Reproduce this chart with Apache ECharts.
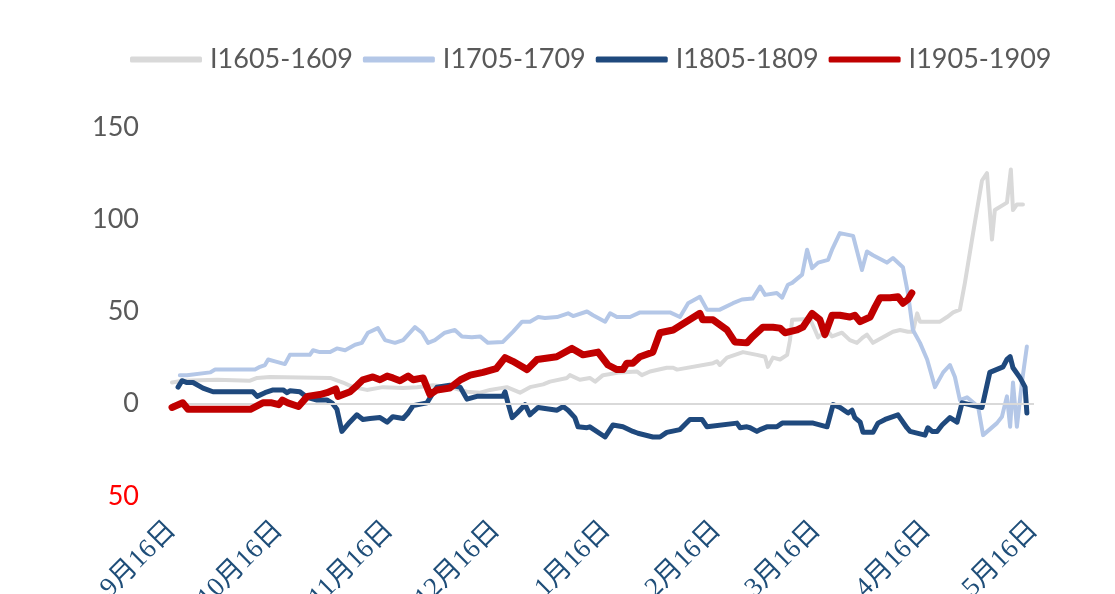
<!DOCTYPE html>
<html>
<head>
<meta charset="utf-8">
<script src="https://cdn.jsdelivr.net/npm/echarts@6/dist/echarts.min.js"></script>
<style>
html,body{margin:0;padding:0;background:#fff;}
#chart{width:1115px;height:594px;}
</style>
</head>
<body>
<div id="chart"></div>
<script>
// x = days after 9月16日
const seriesNames = ['I1605-1609','I1705-1709','I1805-1809','I1905-1909'];
const xLabels = ['9月16日','10月16日','11月16日','12月16日','1月16日','2月16日','3月16日','4月16日','5月16日'];
const xLabelDays = [0,30,61,91,122,153,181,212,242];
const yTicks = [-50,0,50,100,150];

const i1605 = [
[0,11.5],[3.1,12.5],[12.6,13],[21.9,12.5],[23.9,14],[27.5,14.5],[44.4,14],[48,11.5],[50.8,9],[54.7,7.5],[59.2,9],[64.9,8.5],[68.8,9],[73.3,10],[78,9],[82.8,6.5],[86.5,6],[89.3,7.5],[94,9],[97.7,6],[100.5,9],[104.2,10.5],[106.1,12],[110.9,14],[111.7,15.5],[114.5,13],[117.3,14],[118.8,12],[121,15.5],[125.8,17],[130.5,17.5],[131.9,15.5],[134.2,17.5],[138.9,19.5],[140.7,19.5],[141.8,18.5],[151.9,22],[153,23],[153.8,21],[155.8,25],[160.3,28],[164.2,26.5],[166.5,25.5],[167.3,20],[168.7,25],[170.7,24],[172.7,26.5],[173.5,34.5],[174.1,45.5],[179.1,46],[180.5,40],[181.4,36],[183.9,40],[185.3,36.5],[188.1,38.5],[190.3,34.5],[192.3,33],[194,36],[195.1,37.5],[196.8,33],[199.6,36],[202.4,39],[204.4,40],[206.6,39],[208,39],[209.2,49],[210,44.5],[215.6,44.5],[217.6,47],[219.3,49.5],[221.2,51],[222.6,65.5],[224.9,92.5],[227.4,121],[228.8,125],[230.2,89],[231,105],[234.4,109],[235.5,127],[236.1,105],[237.2,108],[238.9,108]
];
const i1705 = [
[2.2,15.5],[4.2,15.5],[10.7,17],[12.1,18.5],[23.3,18.5],[24.7,20],[26.1,21],[27,24],[28.9,23],[31.7,21.5],[33.1,26.5],[38.7,26.5],[39.6,29],[41.5,28],[44.4,28],[46.3,30],[48.6,29],[51.4,32],[53.3,33],[55,38.5],[57.8,41],[59.8,34.5],[62.6,33],[64.9,34.5],[66.3,37.5],[68.2,41.5],[70.2,38.5],[71.9,33],[73.8,34.5],[76.6,38.5],[79.4,40],[81.4,36.5],[84.2,36],[86.5,36.5],[88.7,33],[92.9,33.5],[95.7,39],[98.3,44.5],[100.5,44.5],[102.8,47],[104.7,46.5],[108.1,47],[111.2,49],[112.6,47.5],[116.5,50],[118.2,48],[121.6,44.5],[123,49],[124.9,47],[128.6,47],[131.4,49.5],[139.8,49.5],[142.6,47],[144.9,54.5],[148.2,58],[150.2,51],[153.8,51],[157.5,54.5],[160,56.5],[163,57],[165.1,63.5],[166.5,59],[169.8,60],[171.3,57.5],[172.9,64.5],[174.1,65.5],[176.9,70],[178.3,83.5],[179.7,73.5],[181.4,76.5],[184.2,78],[185.3,83.5],[187.5,92.5],[191.2,91],[193.7,72.5],[195.1,82.5],[196.8,80.5],[200.7,76.5],[202.4,79],[205.2,74],[206.6,60],[208,40],[210,33],[212,24],[214.2,9],[216.5,17],[218.4,21],[219.8,14.5],[221.2,2],[223.2,3.5],[226.3,-1.5],[227.7,-17],[231.6,-10.5],[233,-7],[234.4,4],[235.3,-12.5],[236.1,11.5],[237.2,-12.5],[238.6,11.5],[240,31]
];
const i1805 = [
[1.7,9],[2.8,12.5],[4.2,11.5],[5.9,11.5],[8.7,8.5],[11.5,6.5],[22.7,6.5],[23.9,4],[26.1,6],[28.4,7.5],[31.2,7.5],[32.3,6],[33.1,7],[35.9,6.5],[37.9,3.5],[40.7,2],[43.5,2],[44.9,0.5],[46.3,-3],[47.7,-15],[49.9,-10],[51.9,-6],[53.6,-8.5],[55.6,-8],[58.4,-7.5],[60.4,-10],[62,-7],[64.9,-8],[66.3,-5],[67.7,-1],[71.6,0.5],[73.3,6],[74.4,9],[78,10],[80.9,9],[82.8,2.5],[85.6,4],[92.9,4],[93.5,6.5],[94.3,0.5],[95.5,-7.5],[96.9,-5],[99.1,-0.5],[100.5,-6],[101.3,-4.5],[102.8,-2],[108.1,-3.5],[109.8,-1.5],[111.2,-3.5],[113.1,-7.5],[114,-12.5],[116.5,-13],[117.3,-12.5],[121.6,-18],[123.8,-11.5],[126.6,-12.5],[129.4,-15],[130.8,-16],[135,-18],[137,-18],[138.9,-15.5],[142.6,-14],[145.4,-8.5],[148.8,-8.5],[150.2,-12.5],[158.6,-10.5],[159.5,-13],[161.4,-12.5],[162.3,-13],[164.2,-15],[165.1,-14],[167,-12.5],[169.8,-12.5],[171.3,-10.5],[180,-10.5],[183.9,-12.5],[185.6,-0.5],[187.5,-2],[189.8,-5],[190.9,-3.5],[191.7,-7.5],[193.2,-10],[194,-15.5],[196.8,-15.5],[198.2,-10.5],[200.2,-8.5],[203.8,-6],[206.3,-13],[207.2,-15],[211.4,-17],[212.2,-13],[213.4,-15],[214.8,-15],[216.2,-11.5],[218.4,-7.5],[220.4,-10],[221.8,0.5],[227.4,-2],[229.6,17],[233.3,20],[234.4,24],[235.3,25.5],[236.1,19.5],[238.1,14],[239.5,9],[240,-5]
];
const i1905 = [
[0,-2],[3,0.5],[4.5,-3],[22,-3],[25.5,0.5],[28,0.5],[30,-0.5],[31,2],[32.5,0.5],[35.5,-1.5],[38,4],[41.5,5],[43.5,6],[46,8],[46.6,4],[50,6.5],[52,10],[53.6,13],[56.4,14.5],[58.4,13],[60.4,15],[62,14],[64,12.5],[66.3,15],[67.7,13],[70.5,14],[72.4,5],[74.4,7.5],[78,8.5],[81,13],[83.7,15.5],[87.3,17],[91,19],[93.5,25],[95.7,23],[99.7,18.5],[102.5,24],[108,25.5],[112.3,30],[115.4,26.5],[119.6,28],[122.4,21],[124.9,18.5],[126.6,18.5],[127.7,22],[129.4,22],[131.4,25.5],[135,28],[137,38.5],[140.7,40],[148.2,49],[149,45.5],[151.9,45.5],[155.8,40],[158,33.5],[161.4,33],[162.8,36],[165.9,41.5],[168.7,41.5],[170.7,41],[172.1,38.5],[175.5,40],[177.1,41.5],[179.7,49],[181.9,45.5],[183.3,37.5],[185.3,48],[187.5,48],[190.3,47],[191.7,48],[193.2,44.5],[196,47],[197.4,52.5],[198.8,57.5],[201.6,57.5],[203.8,58],[205.2,54.5],[206.6,56.5],[207.7,60]
];

const colors = ['#d9d9d9','#b4c7e7','#1f497d','#c00000'];
const widths = [4,4,5,7];
const datas = [i1605,i1705,i1805,i1905];

const chart = echarts.init(document.getElementById('chart'), null, {renderer:'canvas'});
const series = seriesNames.map((n,i)=>({
  name:n, type:'line', data:datas[i], showSymbol:false, symbol:'none',
  lineStyle:{color:colors[i], width:widths[i], cap:'round', join:'round'},
  itemStyle:{color:colors[i]}, z:2+i, animation:false,
  markLine: i===0 ? {silent:true, symbol:'none', label:{show:false},
    lineStyle:{color:'#d9d9d9', width:2, type:'solid'}, data:[{yAxis:0}], animation:false} : undefined
}));

chart.setOption({
  animation:false,
  legend:{
    data:seriesNames, top:41, left:125, itemWidth:72, itemHeight:6, itemGap:10,
    icon:'roundRect',
    textStyle:{fontFamily:'Lato', fontSize:27, color:'#595959', padding:[0,0,0,3]}
  },
  grid:{left:172, right:81, top:127, bottom:98, containLabel:false, outerBoundsMode:'none'},
  xAxis:{
    type:'value', min:0, max:242,
    axisLine:{show:false}, splitLine:{show:false},
    axisTick:{show:false},
    axisLabel:{
      customValues:xLabelDays, rotate:45, margin:30,
      color:'#1f4e79', fontSize:27, fontFamily:"'Liberation Serif','Noto Sans CJK SC'",
      formatter:(v)=>{const k=xLabelDays.indexOf(v); return k>=0?xLabels[k]:'';}
    }
  },
  yAxis:{
    type:'value', min:-50, max:150, interval:50,
    axisLine:{show:false}, axisTick:{show:false}, splitLine:{show:false},
    axisLabel:{
      margin:33, fontFamily:'Lato', fontSize:27,
      color:(v)=> (Number(v)<0 ? '#ff0000' : '#595959'),
      formatter:(v)=> String(Math.abs(v))
    }
  },
  series:series
});
</script>
</body>
</html>
